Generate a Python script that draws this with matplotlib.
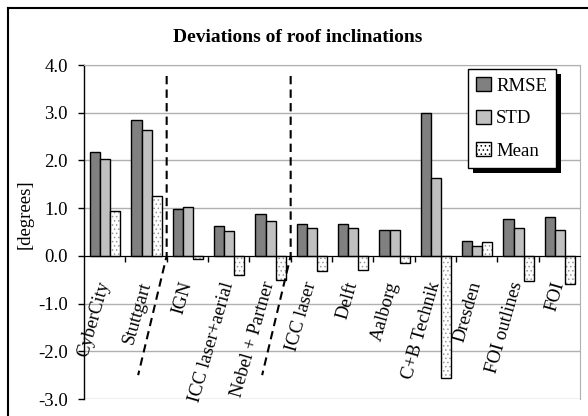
import numpy as np
import matplotlib
matplotlib.use("Agg")
import matplotlib.pyplot as plt
from matplotlib.patches import Rectangle, Patch
from matplotlib.lines import Line2D

plt.rcParams["font.family"] = ["Liberation Serif", "DejaVu Serif"]
plt.rcParams["hatch.linewidth"] = 0.6

# data
groups = ["CyberCity", "Stuttgart", "IGN", "ICC laser+aerial", "Nebel + Partner",
          "ICC laser", "Delft", "Aalborg", "C+B Technik", "Dresden",
          "FOI outlines", "FOI"]
rmse = [2.18, 2.85, 0.98, 0.63, 0.87, 0.66, 0.66, 0.55, 3.00, 0.31, 0.77, 0.81]
std = [2.03, 2.63, 1.02, 0.52, 0.74, 0.59, 0.59, 0.55, 1.64, 0.20, 0.59, 0.55]
mean = [0.95, 1.26, -0.07, -0.40, -0.50, -0.31, -0.29, -0.14, -2.57, 0.29, -0.53, -0.60]
yticks = [-3.0, -2.0, -1.0, 0.0, 1.0, 2.0, 3.0, 4.0]
# separators sit between these group indices
separators = [1.5, 4.5]

W, H = 588, 416
fs = 13.5
fig = plt.figure(figsize=(W / 100, H / 100), dpi=100)
ax = fig.add_axes([84 / W, 1 - 399 / H, (580 - 84) / W, (399 - 65) / H])

n = len(groups)
x = np.arange(n)
bw = 0.245
sh = 0.015
ax.bar(x - bw + sh, rmse, bw, color="#808080", edgecolor="black", linewidth=1.0, zorder=3)
ax.bar(x + sh, std, bw, color="#c0c0c0", edgecolor="black", linewidth=1.0, zorder=3)
ax.bar(x + bw + sh, mean, bw, color="white", edgecolor="#999999", hatch="....",
       linewidth=0, zorder=3)
ax.bar(x + bw + sh, mean, bw, color="none", edgecolor="black", linewidth=1.0, zorder=3.1)

ax.set_xlim(-0.5, n - 0.5)
ax.set_ylim(-3, 4)
ax.set_yticks(yticks)
ax.set_yticklabels([f"{v:.1f}" for v in yticks], fontsize=fs)
ax.yaxis.grid(True, color="#b0b0b0", linewidth=1.0, zorder=0)
ax.tick_params(axis="y", direction="out", length=4.5, width=1, pad=7)

ax.set_xticks([])
ax.set_xticks(np.arange(n - 1) + 0.5, minor=True)
ax.tick_params(axis="x", which="minor", direction="out", length=4, width=1,
               labelbottom=False)
ax.spines["bottom"].set_position(("data", 0))
ax.spines["bottom"].set_zorder(4)
for s in ["top", "right"]:
    ax.spines[s].set_color("#b0b0b0")
ax.spines["left"].set_linewidth(1.0)

for i, name in enumerate(groups):
    ax.text(i - 0.2, -0.5, name, rotation=74, rotation_mode="anchor",
            ha="right", va="top", fontsize=fs)

for s in separators:
    lo = s - 0.69
    ax.plot([s, s, lo], [3.77, 0, -2.5], color="black", linewidth=1.5,
            dashes=(4, 2.5), zorder=4, clip_on=False)

# legend with solid black drop shadow
handles = [Patch(facecolor="#808080", edgecolor="black"),
           Patch(facecolor="#c0c0c0", edgecolor="black"),
           Patch(facecolor="white", edgecolor="black", hatch="....")]
leg = ax.legend(handles, ["RMSE", "STD", "Mean"], loc="upper left",
                bbox_to_anchor=(468 / W, 1 - 69 / H), bbox_transform=fig.transFigure,
                borderaxespad=0, fontsize=fs, frameon=True, fancybox=False,
                framealpha=1, handlelength=0.75, handleheight=0.75,
                handletextpad=0.3, labelspacing=0.8, borderpad=0.45)
leg.get_frame().set_edgecolor("black")
leg.get_frame().set_linewidth(1.0)
leg.set_zorder(6)
fig.canvas.draw()
bb = leg.get_window_extent()
ax.add_patch(Rectangle((bb.x0 + 5, bb.y0 - 5), bb.width, bb.height,
                       transform=None, facecolor="black", edgecolor="none",
                       zorder=5.9, clip_on=False))

fig.text(298 / W, 1 - 41.5 / H, "Deviations of roof inclinations", ha="center",
         va="baseline", fontsize=14, fontweight="bold")
fig.text(25 / W, 1 - 214 / H, "[degrees]", rotation=90, ha="center", va="center",
         fontsize=fs)

# outer chart frame (cropped at right and bottom)
fig.add_artist(Line2D([8 / W, 1], [1 - 8 / H, 1 - 8 / H], color="black", linewidth=1.5))
fig.add_artist(Line2D([8 / W, 8 / W], [0, 1 - 8 / H], color="black", linewidth=1.5))

fig.savefig("out.png", dpi=100)
